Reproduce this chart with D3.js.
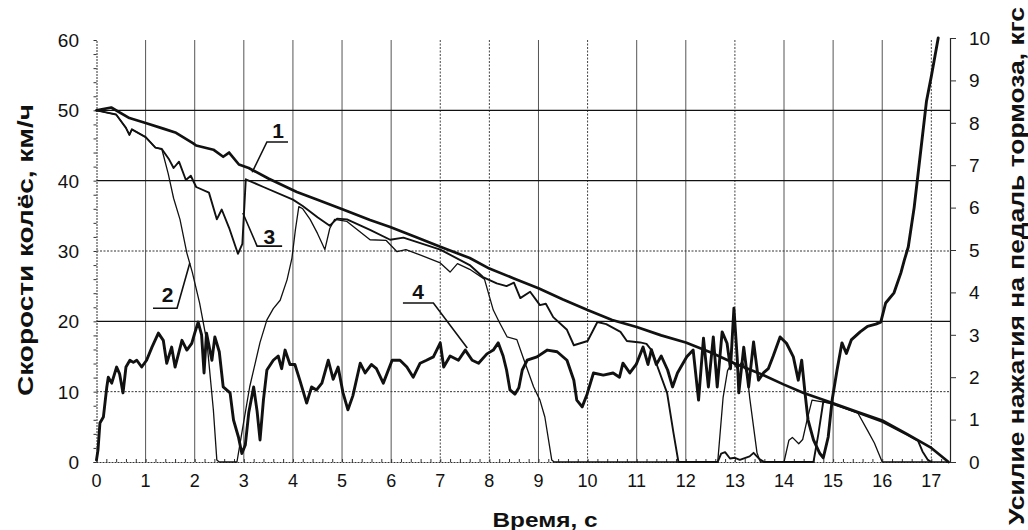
<!DOCTYPE html>
<html><head><meta charset="utf-8">
<script src="https://cdn.jsdelivr.net/npm/d3@7/dist/d3.min.js"></script>
<style>
html,body{margin:0;padding:0;background:#fff;}
svg{display:block;font-family:"Liberation Sans",Arial,sans-serif;}
</style></head>
<body>
<svg id="chart" width="1028" height="530"></svg>
<script>
// ---------- data ----------
const xTicks = [0,1,2,3,4,5,6,7,8,9,10,11,12,13,14,15,16,17];
const yLeftTicks = [0,10,20,30,40,50,60];
const yRightTicks = [0,1,2,3,4,5,6,7,8,9,10];
const xTitle = "Время, с";
const yLeftTitle = "Скорости колёс, км/ч";
const yRightTitle = "Усилие нажатия на педаль тормоза, кгс";

// line 1 – reference wheel speed, km/h
const line1T = [0,0.3,0.67,1.0,1.36,1.62,1.97,2.03,2.38,2.58,2.7,2.9,3.1,3.5,4.08,4.5,5.02,5.57,5.98,6.5,7.0,7.6,8.0,8.5,9.0,9.5,10.0,10.5,11.0,11.5,12.0,12.5,13.0,13.5,14.0,14.4,14.9,15.5,16.0,16.5,17.0,17.35];
const line1V = [50,50.4,48.9,48.2,47.4,46.8,45.3,45.0,44.4,43.4,44.0,42.3,41.8,40.3,38.4,37.3,35.9,34.4,33.4,32.0,30.6,29.0,27.5,26.1,24.7,23.1,21.6,20.2,19.2,18.0,17.0,15.6,14.0,12.6,11.0,9.8,8.6,7.1,5.9,4.0,2.0,0];

// line 2 – wheel speed, km/h
const line2T = [0,0.4,0.6,0.67,0.72,1.0,1.2,1.33,1.46,1.57,1.7,1.84,1.95,2.1,2.25,2.38,2.45,2.5,2.86,2.98,3.12,3.33,3.47,3.6,3.74,3.88,3.98,4.05,4.12,4.2,4.35,4.5,4.65,4.75,4.85,5.1,5.57,5.9,6.12,6.3,6.6,7.0,7.2,7.35,7.6,7.9,8.08,8.2,8.36,8.56,8.68,8.9,9.03,9.13,9.27,9.32,12.65,12.76,12.85,12.95,13.05,13.15,13.25,13.3,13.45,13.52,14.0,14.1,14.17,14.3,14.38,14.47,14.57,14.9,15.5,15.7,15.84,15.97,16.0,17.35];
const line2V = [50,49.4,47.5,46.5,47.3,46.2,44.7,44.5,41,37.5,34.5,29.7,27,22.6,17,7.4,0.3,0,0,5,10.7,17,20.2,21.8,23,25.9,29,33,36.3,36,34.5,32.5,30.2,33.2,34.5,34.2,31.6,31.5,29.9,30.2,29.4,28.3,27,28.2,27.4,26,21.6,19.9,17.8,17.4,15,10.7,8.8,6.4,0.3,0,0,9.2,13,14.2,13.3,14.3,12.5,9.2,1.3,0,0,3.1,3.5,2.6,3.2,6,8.8,8.4,7.0,4.5,2.7,0.5,0,0];

// line 3 – wheel speed, km/h
const line3T = [0,0.4,0.6,0.67,0.72,1.0,1.2,1.33,1.48,1.57,1.68,1.82,1.92,2.03,2.29,2.45,2.55,2.7,2.88,2.97,3.04,3.4,4.0,4.2,4.5,4.75,4.9,5.1,5.57,5.98,6.25,7.0,7.6,7.87,8.15,8.35,8.5,8.63,8.83,9.03,9.15,9.3,9.58,9.72,10.0,10.2,10.38,10.67,10.8,11.07,11.2,11.3,11.4,11.62,11.75,11.85,12.65,12.72,12.8,12.9,13.0,13.1,13.3,13.38,13.5,13.6,14.6,14.7,14.8,15.0,15.5,16.0,16.5,16.73,16.82,16.93,17.0];
const line3V = [50,49.4,47.5,46.5,47.3,46.2,44.7,44.5,43,41.8,42.7,40.1,40.7,39.1,38.3,34.5,35.9,33.3,29.6,31,40.2,39.1,37.3,36.4,34.8,33.6,34.6,34.5,33,31.6,31.9,30.2,28,26.3,25.4,25,25.5,23.3,24.2,22.3,22.5,20.6,18.8,16.6,17.2,19.9,19.6,18.5,17.2,17,16.8,15.9,14,9.8,4.1,0,0,1.2,1.4,0.5,0.6,0.3,0.8,1.3,0.4,0,0,4,8.6,8.3,7.0,5.7,3.9,3.0,1.5,0.3,0];

// line 4 – brake pedal force, kgf (right axis)
const line4T = [0,0.03,0.07,0.14,0.21,0.24,0.31,0.41,0.47,0.54,0.6,0.68,0.75,0.82,0.92,1.02,1.13,1.26,1.36,1.43,1.53,1.6,1.74,1.84,1.94,2.0,2.07,2.14,2.19,2.24,2.35,2.41,2.5,2.58,2.72,2.79,2.89,2.96,3.03,3.1,3.2,3.27,3.33,3.4,3.47,3.6,3.7,3.77,3.84,3.94,4.04,4.14,4.28,4.38,4.48,4.59,4.72,4.82,4.92,5.02,5.12,5.22,5.37,5.47,5.6,5.7,5.84,6.02,6.18,6.32,6.45,6.59,6.72,6.86,7.0,7.07,7.2,7.37,7.51,7.65,7.78,7.95,8.08,8.18,8.28,8.35,8.42,8.52,8.6,8.67,8.77,8.97,9.18,9.38,9.58,9.72,9.78,9.89,9.99,10.12,10.32,10.52,10.65,10.72,10.86,10.99,11.13,11.23,11.3,11.4,11.5,11.63,11.73,11.83,11.9,12.02,12.15,12.26,12.36,12.46,12.56,12.64,12.74,12.84,12.91,12.98,13.05,13.08,13.18,13.28,13.38,13.48,13.58,13.68,13.78,13.92,14.05,14.19,14.29,14.36,14.43,14.49,14.6,14.73,14.8,14.9,14.98,15.08,15.18,15.27,15.37,15.55,15.7,15.87,15.97,16.07,16.24,16.38,16.45,16.53,16.65,16.76,16.9,17.0,17.14];
const line4V = [0.05,0.28,0.92,1.06,1.77,2.0,1.86,2.24,2.08,1.63,2.24,2.4,2.35,2.4,2.24,2.4,2.71,3.04,2.87,2.33,2.71,2.24,2.87,2.64,2.8,3.04,3.3,3.0,2.1,3.04,2.4,2.95,2.6,1.77,1.63,0.99,0.59,0.2,0.4,1.16,1.77,1.2,0.52,1.47,2.17,2.4,2.5,2.2,2.64,2.3,2.3,1.93,1.39,1.77,1.7,1.86,2.4,1.95,2.24,1.63,1.23,1.56,2.33,2.1,2.3,2.2,1.86,2.4,2.4,2.24,2.0,2.33,2.4,2.48,2.81,2.24,2.5,2.4,2.64,2.4,2.33,2.55,2.64,2.81,2.5,2.17,1.7,1.6,1.75,2.17,2.4,2.48,2.64,2.6,2.4,1.93,1.46,1.3,1.6,2.1,2.05,2.1,2.0,2.33,2.1,2.3,2.71,2.3,2.65,2.3,2.5,2.17,1.77,2.1,2.24,2.48,2.64,1.46,2.92,1.77,2.95,1.77,3.07,2.8,2.2,3.63,2.4,1.63,2.71,1.77,2.83,1.93,2.1,2.2,2.5,2.95,2.8,2.48,1.93,2.4,1.6,0.99,0.52,0.2,0.1,0.59,1.46,2.17,2.81,2.56,2.88,3.07,3.2,3.25,3.3,3.75,3.99,4.46,4.76,5.07,6.0,7.1,8.5,9.1,10.0];

// curve labels (in data units: seconds, km/h)
const labelText = ["1","2","3","4"];
const labelAt   = [[3.70,46.0],[1.45,22.8],[3.52,31.0],[6.55,23.2]];
const leaderA   = [[3.90,45.5],[1.15,21.85],[3.78,30.7],[6.24,22.6]];
const leaderB   = [[3.47,45.5],[1.64,21.85],[3.27,30.7],[6.86,22.6]];
const leaderC   = [[3.17,41.2],[1.90,28.3],[2.98,35.4],[7.55,16.2]];

// ---------- drawing ----------
const svg = d3.select("#chart");
const x = d3.scaleLinear().domain([0,17.38]).range([96.5,950]);
const yL = d3.scaleLinear().domain([0,60]).range([462,40]);
const yR = d3.scaleLinear().domain([0,10]).range([462,38]);
const ink = "#111";

const dottedX = new Set([7,8,10,13,17]);
const dottedY = new Set([10,30]);

// vertical grid
svg.append("g").selectAll("line").data(xTicks.filter(d=>d>0)).join("line")
  .attr("x1",d=>x(d)).attr("x2",d=>x(d)).attr("y1",yL(0)).attr("y2",yL(60))
  .attr("stroke",d=>dottedX.has(d)?"#444":"#555").attr("stroke-width",1)
  .attr("stroke-dasharray",d=>dottedX.has(d)?"2,1.5":null);
// horizontal grid
svg.append("g").selectAll("line").data(yLeftTicks.filter(d=>d>0&&d<60)).join("line")
  .attr("x1",x(0)).attr("x2",950).attr("y1",d=>yL(d)).attr("y2",d=>yL(d))
  .attr("stroke",d=>dottedY.has(d)?"#333":"#111").attr("stroke-width",d=>dottedY.has(d)?1:1.3)
  .attr("stroke-dasharray",d=>dottedY.has(d)?"2,1.5":null);

// left axis
const gL = svg.append("g").attr("transform",`translate(${x(0)},0)`)
  .call(d3.axisLeft(yL).tickValues(d3.range(0,61,2)).tickSize(3).tickFormat(""));
gL.select(".domain").attr("stroke","#333").attr("stroke-dasharray","2,1");
gL.selectAll(".tick line").attr("stroke","#333");
svg.append("g").selectAll("text").data(yLeftTicks).join("text")
  .attr("x",79).attr("y",d=>yL(d)).attr("dy","0.36em").attr("text-anchor","end")
  .attr("font-size",19).attr("fill",ink).text(d=>d);

// bottom axis
const gB = svg.append("g").attr("transform",`translate(0,${yL(0)})`)
  .call(d3.axisBottom(x).tickValues(d3.range(0,87).map(i=>i*0.2)).tickSize(-3).tickFormat(""));
gB.select(".domain").attr("stroke","#333").attr("stroke-dasharray","2,1");
gB.selectAll(".tick line").attr("stroke","#333");
svg.append("g").selectAll("text").data(xTicks).join("text")
  .attr("x",d=>x(d)).attr("y",487).attr("text-anchor","middle")
  .attr("font-size",18).attr("fill",ink).text(d=>d);

// right axis
const gR = svg.append("g").attr("transform",`translate(950,0)`)
  .call(d3.axisRight(yR).tickValues(yRightTicks).tickSize(6).tickFormat(""));
gR.select(".domain").attr("stroke","#222").attr("stroke-width",1.2);
gR.selectAll(".tick line").attr("stroke","#333");
svg.append("g").selectAll("text").data(yRightTicks).join("text")
  .attr("x",969).attr("y",d=>yR(d)).attr("dy","0.36em").attr("text-anchor","start")
  .attr("font-size",19).attr("fill",ink).text(d=>d);

// titles
svg.append("text").attr("transform","translate(33,250) rotate(-90)")
  .attr("text-anchor","middle").attr("font-size",22).attr("font-weight","bold")
  .attr("fill",ink).attr("textLength",292).attr("lengthAdjust","spacingAndGlyphs").text(yLeftTitle);
svg.append("text").attr("transform","translate(1024,266) rotate(-90)")
  .attr("text-anchor","middle").attr("font-size",22).attr("font-weight","bold")
  .attr("fill",ink).attr("textLength",518).attr("lengthAdjust","spacingAndGlyphs").text(yRightTitle);
svg.append("text").attr("x",545).attr("y",527)
  .attr("text-anchor","middle").attr("font-size",20).attr("font-weight","bold")
  .attr("fill",ink).attr("textLength",105).attr("lengthAdjust","spacingAndGlyphs").text(xTitle);

// series
const clip = svg.append("clipPath").attr("id","plotclip").append("rect")
  .attr("x",x(0)-2).attr("y",yL(60)-4).attr("width",950-x(0)+4).attr("height",yL(0)-yL(60)+8);
function drawLine(T,V,yScale,w){
  const pts = T.map((t,i)=>[t,V[i]]);
  svg.append("path").datum(pts)
    .attr("clip-path","url(#plotclip)")
    .attr("fill","none").attr("stroke",ink).attr("stroke-width",w)
    .attr("stroke-linejoin","round").attr("stroke-linecap","round")
    .attr("d",d3.line().x(d=>x(d[0])).y(d=>yScale(d[1])));
}
drawLine(line2T,line2V,yL,1.3);
drawLine(line3T,line3V,yL,1.9);
drawLine(line1T,line1V,yL,2.7);
drawLine(line4T,line4V,yR,2.9);

// curve labels with leaders
labelText.forEach((s,i)=>{
  svg.append("path").attr("fill","none").attr("stroke",ink).attr("stroke-width",1.6)
    .attr("d",d3.line()([[x(leaderA[i][0]),yL(leaderA[i][1])],[x(leaderB[i][0]),yL(leaderB[i][1])],[x(leaderC[i][0]),yL(leaderC[i][1])]]));
  svg.append("text").attr("x",x(labelAt[i][0])).attr("y",yL(labelAt[i][1]))
    .attr("text-anchor","middle").attr("font-size",21).attr("font-weight","bold")
    .attr("fill",ink).text(s);
});
</script>
</body></html>
